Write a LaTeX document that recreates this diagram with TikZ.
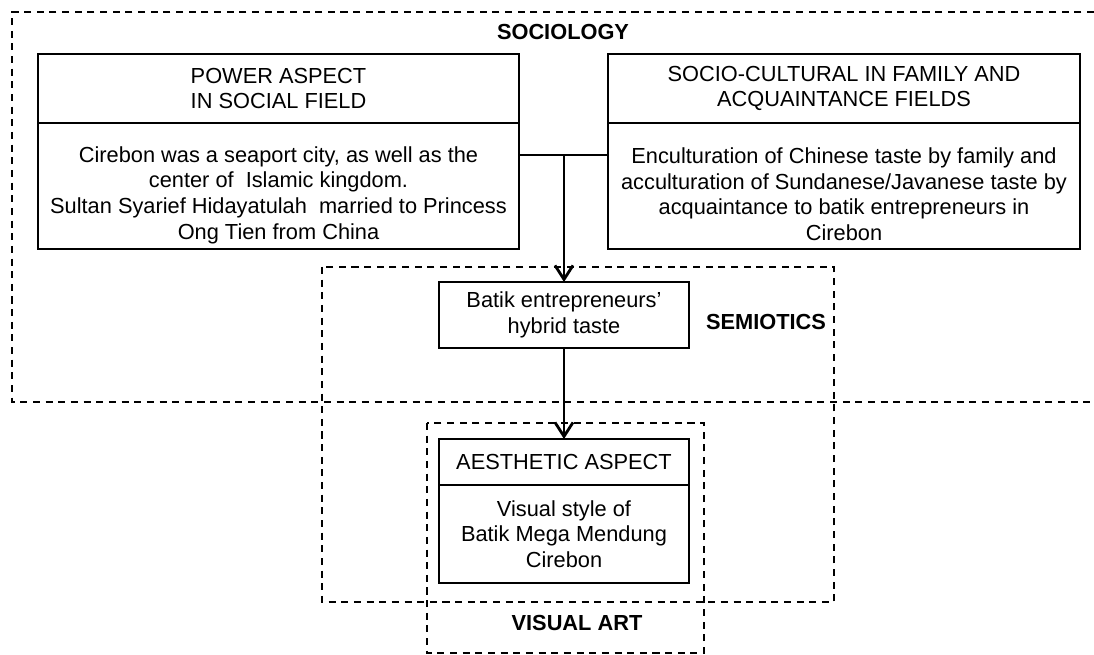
\documentclass[tikz,border=0pt]{standalone}
\usepackage{fontspec}
\setmainfont{Liberation Sans}
\usetikzlibrary{positioning,arrows.meta}

\newcommand{\mainsize}{\fontsize{15.5}{18.3}\selectfont}

\begin{document}
\begin{tikzpicture}[
  box/.style={draw,line width=1.2pt,outer sep=0pt,inner sep=2pt,align=center,font=\mainsize},
  field/.style={draw,dash pattern=on 5pt off 4pt,line width=1.2pt},
  fieldlabel/.style={font=\mainsize\bfseries},
  arrow/.style={line width=1.2pt,-{Straight Barb[length=3.5mm,width=4.5mm,line width=2pt]}}]
  \useasboundingbox (0,0) rectangle (27.35,-16.375);

  % Sociology field (runs off to the right)
  \draw[field] (27.35,-0.3) -- (0.3,-0.3) -- (0.3,-10.05) -- (27.35,-10.05);
  \node[fieldlabel] (sociology) at (14.075,-0.8) {SOCIOLOGY};

  % Semiotics and visual art fields
  \draw[field] (8.05,-6.675) rectangle (20.85,-15.05);
  \node[fieldlabel] (semiotics) at (19.15,-8.05) {SEMIOTICS};
  \draw[field] (10.675,-10.575) rectangle (17.6,-16.325);
  \node[fieldlabel] (visualart) at (14.425,-15.575) {VISUAL ART};

  % Power aspect
  \node[box,anchor=north west,minimum width=12.025cm,minimum height=1.725cm]
    (powerhead) at (0.95,-1.35) {POWER ASPECT\\IN SOCIAL FIELD};
  \node[box,below=0pt of powerhead,minimum width=12.025cm,minimum height=3.15cm]
    (powerbody) {\rule{0pt}{24pt}Cirebon was a seaport city, as well as the\\
      center of~ Islamic kingdom.\\
      Sultan Syarief Hidayatulah~ married to Princess\\
      Ong Tien from China};

  % Socio-cultural
  \node[box,anchor=north west,minimum width=11.8cm,minimum height=1.725cm]
    (sociohead) at (15.2,-1.35) {SOCIO-CULTURAL IN FAMILY AND\\ACQUAINTANCE FIELDS};
  \node[box,below=0pt of sociohead,minimum width=11.8cm,minimum height=3.15cm]
    (sociobody) {\rule{0pt}{23pt}Enculturation of Chinese taste by family and\\
      acculturation of Sundanese/Javanese taste by\\
      acquaintance to batik entrepreneurs in\\
      Cirebon};

  % Hybrid taste
  \node[box,minimum width=6.25cm,minimum height=1.65cm]
    (batik) at (14.1,-7.875) {Batik entrepreneurs'\\hybrid taste};

  % Aesthetic aspect
  \node[box,anchor=north,minimum width=6.25cm,minimum height=1.15cm]
    (aesthead) at (14.1,-10.975) {AESTHETIC ASPECT};
  \node[box,below=0pt of aesthead,minimum width=6.25cm,minimum height=2.45cm]
    (aestbody) {Visual style of\\Batik Mega Mendung\\Cirebon};

  % Connectors
  \coordinate (hub) at (14.1,-3.875);
  \draw[line width=1.2pt] (powerbody.east |- hub) -- (sociobody.west |- hub);
  \draw[arrow] (hub) -- (batik.north);
  \draw[arrow] (batik.south) -- (aesthead.north);
\end{tikzpicture}
\end{document}
